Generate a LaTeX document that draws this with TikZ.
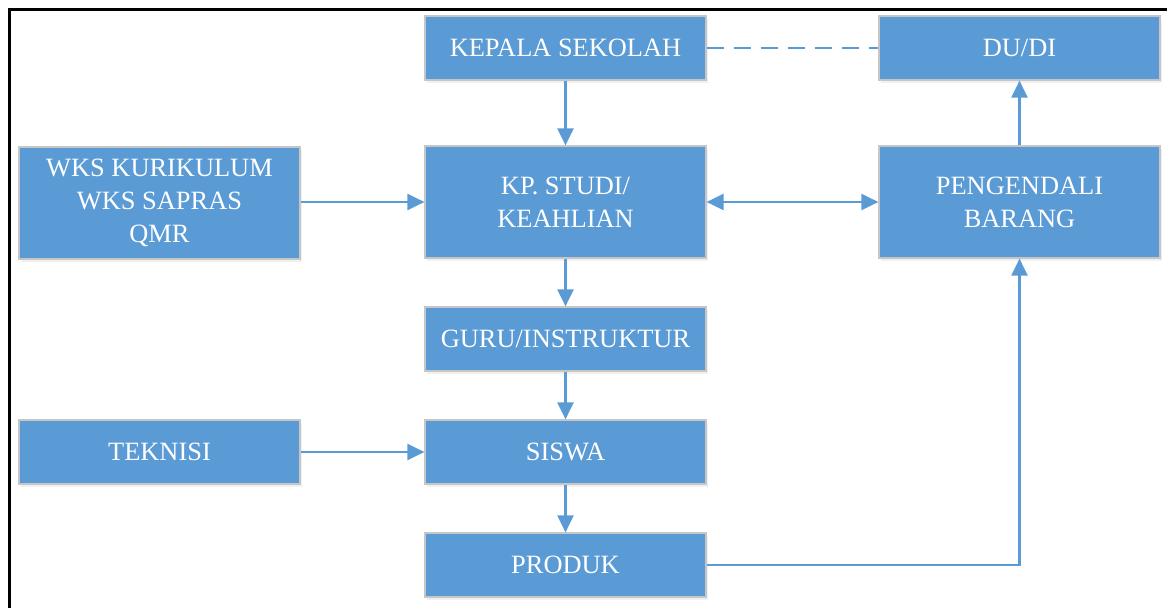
\documentclass[tikz,border=0pt]{standalone}
\usepackage{fontspec}
\setmainfont{Liberation Serif}
\usetikzlibrary{arrows.meta,shadows}

\definecolor{boxblue}{HTML}{5B9BD5}

\begin{document}
\begin{tikzpicture}[x=0.5pt,y=-0.5pt,
    unit/.style={draw=gray!45, line width=0.6pt, fill=boxblue, text=white,
      minimum width=140.5pt, minimum height=32pt, align=center, inner sep=2pt,
      font=\fontsize{13.2}{16.5}\selectfont,
      drop shadow={opacity=0.12, shadow xshift=1pt, shadow yshift=-1.5pt}},
    tall/.style={unit, minimum height=56pt},
    link/.style={draw=boxblue, line width=1.1pt, -{Triangle[length=8.5pt,width=8pt]}}]
    \useasboundingbox (0,0) rectangle (1167,608);
    \draw[line width=1.5pt] (9,608) -- (9,10) -- (1167,10);

    \node[unit] (kepala) at (565.5,48) {KEPALA SEKOLAH};
    \node[unit] (dudi) at (1019.5,48) {DU/DI};
    \node[tall] (wks) at (159.5,203) {WKS KURIKULUM\\WKS SAPRAS\\QMR};
    \node[tall] (kp) at (565.5,202) {KP. STUDI/\\KEAHLIAN};
    \node[tall] (pengendali) at (1019.5,202) {PENGENDALI\\BARANG};
    \node[unit] (guru) at (565.5,339) {GURU/INSTRUKTUR};
    \node[unit] (teknisi) at (159.5,452) {TEKNISI};
    \node[unit] (siswa) at (565.5,452) {SISWA};
    \node[unit] (produk) at (565.5,565) {PRODUK};

    \draw[link] (kepala) -- (kp);
    \draw[draw=boxblue, line width=1.1pt, dash pattern=on 8.5pt off 5pt] (kepala) -- (dudi);
    \draw[link] (wks.east |- kp) -- (kp);
    \draw[link, {Triangle[length=8.5pt,width=8pt]}-{Triangle[length=8.5pt,width=8pt]}] (kp) -- (pengendali);
    \draw[link] (pengendali) -- (dudi);
    \draw[link] (kp) -- (guru);
    \draw[link] (guru) -- (siswa);
    \draw[link] (teknisi) -- (siswa);
    \draw[link] (siswa) -- (produk);
    \draw[link] (produk) -| (pengendali);
  \end{tikzpicture}
\end{document}
